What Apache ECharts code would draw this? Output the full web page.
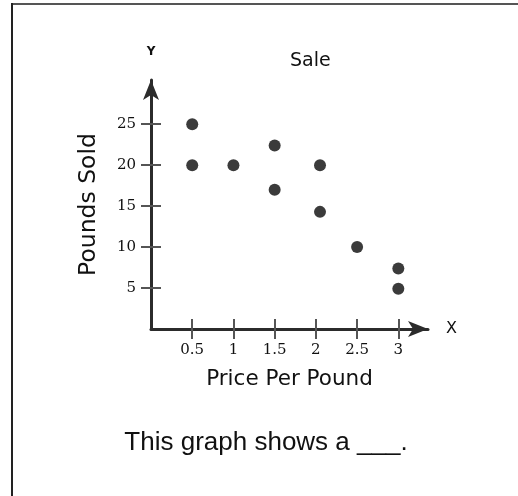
<!DOCTYPE html>
<html>
<head>
<meta charset="utf-8">
<script src="https://cdn.jsdelivr.net/npm/echarts@6/dist/echarts.min.js"></script>
<style>
  html, body { margin: 0; padding: 0; background: #fff; }
  #chart { width: 518px; height: 496px; }
</style>
</head>
<body>
<div id="chart"></div>
<script>
// ---- data ----
var priceValues = [0.5, 0.5, 1, 1.5, 1.5, 2.05, 2.05, 2.5, 3, 3];
var poundsValues = [25, 20, 20, 22.4, 17, 20, 14.3, 10, 7.4, 4.9];
var xTickValues = [0.5, 1, 1.5, 2, 2.5, 3];
var yTickValues = [5, 10, 15, 20, 25];
var chartTitle = 'Sale';
var xAxisTitle = 'Price Per Pound';
var yAxisTitle = 'Pounds Sold';
var caption = 'This graph shows a ___.';

var points = priceValues.map(function (x, i) { return [x, poundsValues[i]]; });

var axisColor = '#2b2b2b';
var tickColor = '#555';
var textColor = '#111';
var sans = '"DejaVu Sans", Verdana, sans-serif';
var serif = '"DejaVu Serif", serif';

var chart = echarts.init(document.getElementById('chart'), null, { renderer: 'canvas' });
chart.setOption({
  animation: false,
  backgroundColor: '#fff',
  title: {
    text: chartTitle,
    left: 290,
    top: 52,
    padding: 0,
    textStyle: { fontFamily: sans, fontSize: 19, fontWeight: 'normal', color: textColor }
  },
  grid: { left: 151, right: 90, top: 80, bottom: 167, containLabel: false },
  xAxis: [
    {
      type: 'value', min: 0, max: 3.36, position: 'bottom',
      name: 'X', nameLocation: 'end', nameGap: 18,
      nameTextStyle: { fontFamily: sans, fontSize: 16, color: textColor, verticalAlign: 'middle' },
      axisLine: { show: true, onZero: false, symbol: ['none', 'arrow'], symbolSize: [12, 20],
        lineStyle: { color: axisColor, width: 3 } },
      axisTick: { show: true, inside: true, length: 10, customValues: xTickValues,
        lineStyle: { color: tickColor, width: 2 } },
      axisLabel: { show: true, customValues: xTickValues, margin: 14,
        fontFamily: serif, fontSize: 15, color: textColor },
      splitLine: { show: false }
    },
    {
      type: 'value', min: 0, max: 3.36, position: 'bottom',
      name: xAxisTitle, nameLocation: 'middle', nameGap: 39,
      nameTextStyle: { fontFamily: sans, fontSize: 21.5, color: textColor },
      axisLine: { show: false, onZero: false },
      axisTick: { show: true, inside: false, length: 10, customValues: xTickValues,
        lineStyle: { color: tickColor, width: 2 } },
      axisLabel: { show: false },
      splitLine: { show: false }
    }
  ],
  yAxis: [
    {
      type: 'value', min: 0, max: 30.4, position: 'left',
      name: 'Y', nameLocation: 'end', nameGap: 22,
      nameTextStyle: { fontFamily: sans, fontSize: 12, fontWeight: 'bold', color: textColor },
      axisLine: { show: true, onZero: false, symbol: ['none', 'arrow'], symbolSize: [12, 20],
        lineStyle: { color: axisColor, width: 3 } },
      axisTick: { show: true, inside: true, length: 10, customValues: yTickValues,
        lineStyle: { color: tickColor, width: 2 } },
      axisLabel: { show: true, customValues: yTickValues, margin: 15,
        fontFamily: serif, fontSize: 15, color: textColor },
      splitLine: { show: false }
    },
    {
      type: 'value', min: 0, max: 30.4, position: 'left',
      name: yAxisTitle, nameLocation: 'middle', nameGap: 50,
      nameTextStyle: { fontFamily: sans, fontSize: 23.5, color: textColor },
      axisLine: { show: false, onZero: false },
      axisTick: { show: true, inside: false, length: 10, customValues: yTickValues,
        lineStyle: { color: tickColor, width: 2 } },
      axisLabel: { show: false },
      splitLine: { show: false }
    }
  ],
  series: [
    {
      type: 'scatter',
      xAxisIndex: 0, yAxisIndex: 0,
      data: points,
      symbol: 'circle',
      symbolSize: 12,
      itemStyle: { color: '#0a0a0a' }
    }
  ],
  graphic: [
    { type: 'line', silent: true, shape: { x1: 12, y1: 4, x2: 518, y2: 4 },
      style: { stroke: '#555', lineWidth: 2 } },
    { type: 'line', silent: true, shape: { x1: 12, y1: 3, x2: 12, y2: 496 },
      style: { stroke: '#222', lineWidth: 2 } },
    { type: 'text', silent: true, x: 266, y: 443,
      style: { text: caption, align: 'center', verticalAlign: 'middle',
        font: '26px "Liberation Sans", Arial, sans-serif', fill: textColor } }
  ]
});
</script>
</body>
</html>
